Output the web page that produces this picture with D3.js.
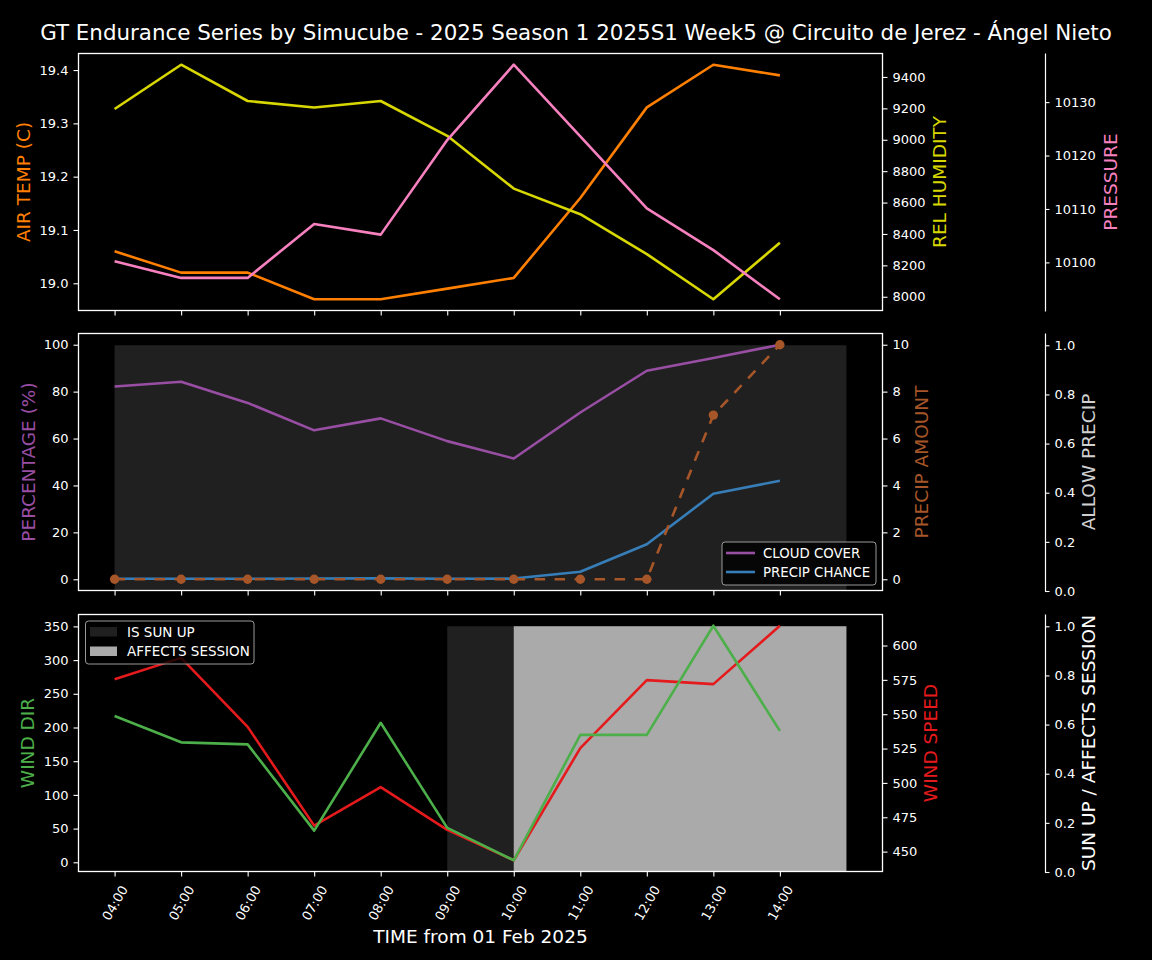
<!DOCTYPE html>
<html>
<head>
<meta charset="utf-8">
<script src="https://cdn.jsdelivr.net/npm/d3@7"></script>
<style>
  html, body { margin: 0; padding: 0; background: #000; }
  svg { display: block; }
</style>
</head>
<body>
<svg id="chart" width="1152" height="960"></svg>
<script>
// ---------------- DATA ----------------
const timeLabels = ["04:00","05:00","06:00","07:00","08:00","09:00","10:00","11:00","12:00","13:00","14:00"];
const hours = [4,5,6,7,8,9,10,11,12,13,14];

const airTemp     = [19.06, 19.02, 19.02, 18.97, 18.97, 18.99, 19.01, 19.16, 19.33, 19.41, 19.39];
const relHumidity = [9196, 9478, 9247, 9206, 9247, 9025, 8689, 8526, 8272, 7984, 8344];
const pressure    = [10100.2, 10097.1, 10097.1, 10107.2, 10105.2, 10122.9, 10137.0, 10123.6, 10110.1, 10102.3, 10093.1];

const cloudCover   = [82.2, 84.2, 75.2, 63.5, 68.6, 58.9, 51.5, 71.1, 88.9, 94.3, 100];
const precipChance = [0.2, 0.2, 0.2, 0.3, 0.4, 0.2, 0.3, 3.2, 14.9, 36.5, 42.0];
const precipAmount = [0, 0, 0, 0, 0, 0, 0, 0, 0, 7.0, 10.0];
const allowPrecip  = [1, 1, 1, 1, 1, 1, 1, 1, 1, 1, 1];

const windDir   = [217, 178, 175, 47, 207, 51, 3, 189, 189, 351, 195];
const windSpeed = [575.5, 591.0, 540.8, 468.9, 496.9, 465.8, 443.7, 525.3, 574.8, 571.9, 614.4];
const isSunUp        = [0, 0, 0, 0, 0, 1, 1, 1, 1, 1, 1];
const affectsSession = [0, 0, 0, 0, 0, 0, 1, 1, 1, 1, 1];

const tempTicks     = [19.0, 19.1, 19.2, 19.3, 19.4];
const humTicks      = [8000, 8200, 8400, 8600, 8800, 9000, 9200, 9400];
const pressTicks    = [10100, 10110, 10120, 10130];
const pctTicks      = [0, 20, 40, 60, 80, 100];
const amountTicks   = [0, 2, 4, 6, 8, 10];
const unitTicks     = [0, 0.2, 0.4, 0.6, 0.8, 1.0];
const dirTicks      = [0, 50, 100, 150, 200, 250, 300, 350];
const speedTicks    = [450, 475, 500, 525, 550, 575, 600];

const titleText = "GT Endurance Series by Simucube - 2025 Season 1 2025S1 Week5 @ Circuito de Jerez - Ángel Nieto";
const xLabelText = "TIME from 01 Feb 2025";

// ---------------- COLORS ----------------
const C = {
  temp: "#ff7f00", hum: "#d8d800", press: "#f781bf",
  cloud: "#984ea3", chance: "#377eb8", amount: "#a65628",
  dir: "#4daf4a", speed: "#e41a1c",
  sunFill: "#202020", sessFill: "#aaaaaa", allowFill: "#202020"
};
const FONT = "DejaVu Sans, Verdana, sans-serif";
const LW = 2.6;

// ---------------- LAYOUT ----------------
const svg = d3.select("#chart");
svg.append("rect").attr("width", 1152).attr("height", 960).attr("fill", "#000");

const L = 78, R = 883, R2 = 1045;
const panels = [
  {top: 53, bottom: 311},
  {top: 333, bottom: 591},
  {top: 614, bottom: 872}
];

const x = d3.scaleLinear().domain([3.45, 15.55]).range([L, R]);

function padDomain(arr) {
  const mn = d3.min(arr), mx = d3.max(arr), r = mx - mn;
  return [mn - 0.05 * r, mx + 0.05 * r];
}

function styleAxis(g, withDomain) {
  g.attr("font-size", 13).attr("font-family", FONT);
  g.selectAll("text").attr("fill", "#fff");
  g.selectAll(".tick line").attr("stroke", "#fff").attr("stroke-width", 1.1);
  if (withDomain) g.select(".domain").attr("stroke", "#fff").attr("stroke-width", 1.2);
  else g.select(".domain").remove();
}

function leftAxis(y, ticks, fmt) {
  const g = svg.append("g").attr("transform", `translate(${L},0)`)
    .call(d3.axisLeft(y).tickValues(ticks).tickFormat(fmt).tickSize(4.5).tickPadding(5));
  styleAxis(g, false);
}
function rightAxis(y, ticks, fmt) {
  const g = svg.append("g").attr("transform", `translate(${R},0)`)
    .call(d3.axisRight(y).tickValues(ticks).tickFormat(fmt).tickSize(4.5).tickPadding(5));
  styleAxis(g, false);
}
function farAxis(y, ticks, fmt) {
  const g = svg.append("g").attr("transform", `translate(${R2},0)`)
    .call(d3.axisRight(y).tickValues(ticks).tickFormat(fmt).tickSize(4.5).tickSizeOuter(0).tickPadding(5));
  styleAxis(g, true);
}
function xAxis(p, withLabels) {
  const g = svg.append("g").attr("transform", `translate(0,${p.bottom})`)
    .call(d3.axisBottom(x).tickValues(hours).tickFormat((d, i) => withLabels ? timeLabels[i] : "").tickSize(4.5));
  styleAxis(g, false);
  if (withLabels) {
    g.selectAll(".tick text")
      .attr("y", 0).attr("dy", null)
      .attr("text-anchor", "middle")
      .attr("dominant-baseline", "central")
      .attr("transform", "translate(0,31) rotate(-60)");
  } else {
    g.selectAll(".tick text").remove();
  }
}
function yLabel(text, cx, cy, color, size) {
  svg.append("text")
    .attr("transform", `translate(${cx},${cy}) rotate(-90)`)
    .attr("text-anchor", "middle")
    .attr("dominant-baseline", "central")
    .attr("fill", color)
    .attr("font-family", FONT)
    .attr("font-size", size || 18.5)
    .text(text);
}
function drawLine(y, vals, color, extra) {
  const line = d3.line().x((d, i) => x(hours[i])).y(d => y(d));
  const p = svg.append("path").datum(vals)
    .attr("d", line).attr("fill", "none")
    .attr("stroke", color).attr("stroke-width", LW)
    .attr("stroke-linejoin", "round");
  if (extra) extra(p);
  return p;
}
function drawStepFill(y, vals, color) {
  const pts = vals.map((v, i) => [hours[i], v]);
  pts.push([hours[hours.length - 1] + 1, vals[vals.length - 1]]);
  const area = d3.area().curve(d3.curveStepAfter)
    .x(d => x(d[0])).y0(y(0)).y1(d => y(d[1]));
  svg.append("path").datum(pts).attr("d", area).attr("fill", color).attr("stroke", "none");
}
function frame(p) {
  svg.append("rect").attr("x", L + 0.5).attr("y", p.top + 0.5).attr("width", R - L - 1).attr("height", p.bottom - p.top - 1)
    .attr("fill", "none").attr("stroke", "#fff").attr("stroke-width", 1.3);
}

// ---------------- PANEL 1 ----------------
{
  const p = panels[0];
  const yT = d3.scaleLinear().domain(padDomain(airTemp)).range([p.bottom, p.top]);
  const yH = d3.scaleLinear().domain(padDomain(relHumidity)).range([p.bottom, p.top]);
  const yP = d3.scaleLinear().domain(padDomain(pressure)).range([p.bottom, p.top]);
  drawLine(yT, airTemp, C.temp);
  drawLine(yH, relHumidity, C.hum);
  drawLine(yP, pressure, C.press);
  frame(p);
  leftAxis(yT, tempTicks, d3.format(".1f"));
  rightAxis(yH, humTicks, d3.format("d"));
  farAxis(yP, pressTicks, d3.format("d"));
  xAxis(p, false);
  const cy = (p.top + p.bottom) / 2;
  yLabel("AIR TEMP (C)", 23, cy, C.temp);
  yLabel("REL HUMIDITY", 939, cy, C.hum);
  yLabel("PRESSURE", 1110, cy, C.press);
}

// ---------------- PANEL 2 ----------------
{
  const p = panels[1];
  const yPct = d3.scaleLinear().domain([-5, 105]).range([p.bottom, p.top]);
  const yAmt = d3.scaleLinear().domain([-0.5, 10.5]).range([p.bottom, p.top]);
  const yAllow = d3.scaleLinear().domain([0, 1.05]).range([p.bottom, p.top]);
  drawStepFill(yAllow, allowPrecip, C.allowFill);
  drawLine(yPct, cloudCover, C.cloud);
  drawLine(yPct, precipChance, C.chance);
  drawLine(yAmt, precipAmount, C.amount, path => path.attr("stroke-dasharray", "10.5,9.5").attr("stroke-linejoin", "miter"));
  svg.append("g").selectAll("circle").data(precipAmount).join("circle")
    .attr("cx", (d, i) => x(hours[i])).attr("cy", d => yAmt(d)).attr("r", 4.7)
    .attr("fill", C.amount);
  frame(p);
  leftAxis(yPct, pctTicks, d3.format("d"));
  rightAxis(yAmt, amountTicks, d3.format("d"));
  farAxis(yAllow, unitTicks, d3.format(".1f"));
  xAxis(p, false);
  const cy = (p.top + p.bottom) / 2;
  yLabel("PERCENTAGE (%)", 28, cy, C.cloud);
  yLabel("PRECIP AMOUNT", 921, cy, C.amount);
  yLabel("ALLOW PRECIP", 1088, cy, "#d0d0d0");

  // legend
  const lg = svg.append("g").attr("font-family", FONT).attr("font-size", 13.3);
  lg.append("rect").attr("x", 722).attr("y", 542).attr("width", 154).attr("height", 43).attr("rx", 3)
    .attr("fill", "#000").attr("fill-opacity", 0.8).attr("stroke", "#999").attr("stroke-width", 1);
  const items = [["CLOUD COVER", C.cloud, 553], ["PRECIP CHANCE", C.chance, 572]];
  items.forEach(([t, c, yy]) => {
    lg.append("line").attr("x1", 726).attr("x2", 755).attr("y1", yy).attr("y2", yy)
      .attr("stroke", c).attr("stroke-width", LW);
    lg.append("text").attr("x", 763).attr("y", yy).attr("dominant-baseline", "central")
      .attr("fill", "#fff").text(t);
  });
}

// ---------------- PANEL 3 ----------------
{
  const p = panels[2];
  const yDir = d3.scaleLinear().domain(padDomain(windDir)).range([p.bottom, p.top]);
  const ySpd = d3.scaleLinear().domain(padDomain(windSpeed)).range([p.bottom, p.top]);
  const yU = d3.scaleLinear().domain([0, 1.05]).range([p.bottom, p.top]);
  drawStepFill(yU, isSunUp, C.sunFill);
  drawStepFill(yU, affectsSession, C.sessFill);
  drawLine(ySpd, windSpeed, C.speed);
  drawLine(yDir, windDir, C.dir);
  frame(p);
  leftAxis(yDir, dirTicks, d3.format("d"));
  rightAxis(ySpd, speedTicks, d3.format("d"));
  farAxis(yU, unitTicks, d3.format(".1f"));
  xAxis(p, true);
  const cy = (p.top + p.bottom) / 2;
  yLabel("WIND DIR", 27, cy, C.dir);
  yLabel("WIND SPEED", 930, cy, C.speed);
  yLabel("SUN UP / AFFECTS SESSION", 1088, cy, "#fff");

  // legend
  const lg = svg.append("g").attr("font-family", FONT).attr("font-size", 13.5);
  lg.append("rect").attr("x", 85.5).attr("y", 621).attr("width", 168.5).attr("height", 43).attr("rx", 3)
    .attr("fill", "#000").attr("fill-opacity", 0.8).attr("stroke", "#999").attr("stroke-width", 1);
  const items = [["IS SUN UP", C.sunFill, 631.5], ["AFFECTS SESSION", C.sessFill, 651]];
  items.forEach(([t, c, yy]) => {
    lg.append("rect").attr("x", 90).attr("y", yy - 4.5).attr("width", 27).attr("height", 9.5).attr("fill", c);
    lg.append("text").attr("x", 127).attr("y", yy).attr("dominant-baseline", "central")
      .attr("fill", "#fff").text(t);
  });
}

// ---------------- TITLES ----------------
svg.append("text").attr("x", 576).attr("y", 32).attr("text-anchor", "middle")
  .attr("dominant-baseline", "central")
  .attr("fill", "#fff").attr("font-family", FONT).attr("font-size", 21.4).text(titleText);
svg.append("text").attr("x", (L + R) / 2).attr("y", 936).attr("text-anchor", "middle")
  .attr("dominant-baseline", "central")
  .attr("fill", "#fff").attr("font-family", FONT).attr("font-size", 18.5).text(xLabelText);
</script>
</body>
</html>
